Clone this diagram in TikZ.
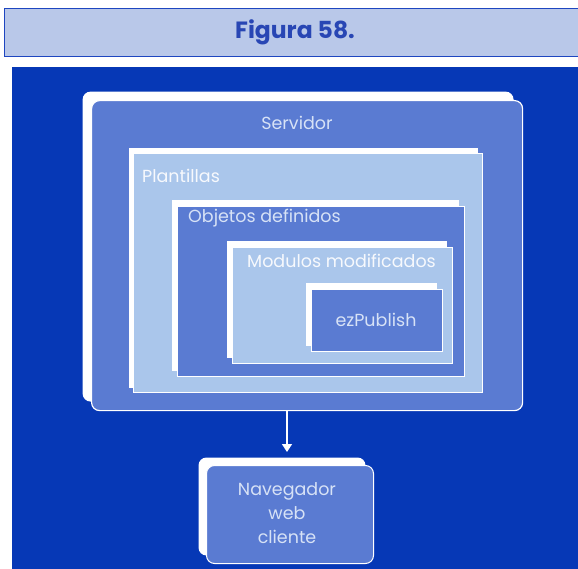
\documentclass[tikz,border=0pt]{standalone}
\usepackage{fontspec}
\setmainfont{Poppins}
\usetikzlibrary{arrows.meta,shadows}
\definecolor{bgblue}{RGB}{6,56,182}
\definecolor{midblue}{RGB}{90,123,210}
\definecolor{lightblue}{RGB}{170,198,235}
\definecolor{titlefill}{RGB}{185,200,233}
\definecolor{titleline}{RGB}{30,70,192}
\definecolor{titletext}{RGB}{40,70,180}
\definecolor{paletext}{RGB}{215,226,246}
\tikzset{
  layer/.style={draw=white, line width=1pt, anchor=north west, inner sep=0pt,
    general shadow={fill=white, shadow xshift=-#1, shadow yshift=#1}},
  layer/.default={6pt},
  midbox/.style={layer=#1, fill=midblue},
  lightbox/.style={layer=#1, fill=lightblue},
  lbl/.style={text=paletext, font=\fontsize{17.5}{21}\selectfont, inner sep=0pt},
}
\begin{document}
\begin{tikzpicture}[x=1pt,y=-1pt]
\useasboundingbox (0,0) rectangle (578,569);
% title
\node[draw=titleline, line width=1pt, fill=titlefill, anchor=north west, minimum width=580pt, minimum height=48pt, inner sep=0pt] (title) at (4,8) {};
\node[text=titletext, font=\bfseries\fontsize{23.5}{26}\selectfont] (titletxt) at (295,32) {Figura 58.};
% background
\fill[bgblue] (12,67) rectangle (580,571);
% boxes
\node[midbox=9pt, rounded corners=8pt, minimum width=431pt, minimum height=310pt, line width=1.2pt] (serv) at (91,100) {};
\node[lightbox=5pt, minimum width=349pt, minimum height=239pt] (plant) at (133,153) {};
\node[midbox=6pt, minimum width=287pt, minimum height=170pt] (obj) at (177,206) {};
\node[lightbox=6pt, minimum width=220pt, minimum height=116pt] (mod) at (232,247) {};
\node[midbox=6pt, minimum width=131pt, minimum height=62pt] (ez) at (311,289) {};
\node[midbox=8pt, rounded corners=8pt, minimum width=167pt, minimum height=98pt] (nav) at (206,465) {};
% labels
\node[lbl] (servtxt) at (297,123) {Servidor};
\node[lbl, anchor=west, text=white!90!lightblue] (planttxt) at (142,176) {Plantillas};
\node[lbl, anchor=west] (objtxt) at (188,218) {Objetos definidos};
\node[lbl, anchor=west, text=white!90!lightblue] (modtxt) at (247,261) {Modulos modificados};
\node[lbl] (eztxt) at (376,320) {ezPublish};
\node[lbl, align=center, font=\fontsize{17.5}{24}\selectfont] (navtxt) at (287,513) {Navegador\\web\\cliente};
% arrow
\coordinate (tip) at (287,452);
\draw[white, line width=1.5pt, -{Triangle[width=10pt,length=8pt]}] (serv.south -| tip) -- (tip);
\end{tikzpicture}
\end{document}
